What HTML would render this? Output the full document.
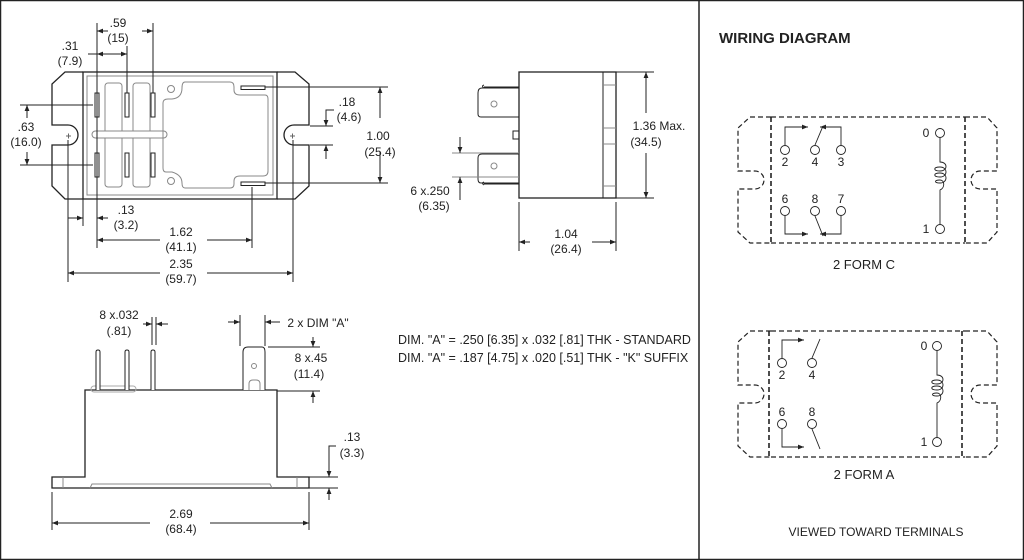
<!DOCTYPE html>
<html><head><meta charset="utf-8"><style>
html,body{margin:0;padding:0;background:#fff}
svg{display:block}
text{font-family:"Liberation Sans",sans-serif;fill:#222;font-size:12px}
</style></head><body>
<svg width="1024" height="560" viewBox="0 0 1024 560" xmlns="http://www.w3.org/2000/svg">
<defs>
<marker id="a" viewBox="0 0 10 10" refX="10" refY="5" markerWidth="8" markerHeight="6" orient="auto-start-reverse" markerUnits="userSpaceOnUse"><path d="M0,1 L10,5 L0,9z" fill="#222"/></marker>
</defs>
<rect x="0.5" y="0.5" width="1023" height="559" fill="#fff" stroke="#222" stroke-width="1.5"/>
<line x1="699" y1="0" x2="699" y2="560" stroke="#222" stroke-width="1.5"/>

<g stroke="#222" fill="none" stroke-width="1">
<path d="M83,72 H65 L52,84 V125 H68 A10,10 0 0 1 68,145 H52 V186 L65,199 H83" stroke-width="1.3"/>
<path d="M277,72 H295 L309,84 V125 H294 A10,10 0 0 0 294,145 H309 V186 L295,199 H277" stroke-width="1.3"/>
<rect x="83" y="72" width="194" height="127" stroke-width="1.3"/>
<rect x="87" y="76" width="186" height="119" stroke="#888"/>
<rect x="105" y="83" width="17" height="104" rx="3" stroke="#888"/>
<rect x="133" y="83" width="17" height="104" rx="3" stroke="#888"/>
<rect x="92" y="131" width="75" height="7" rx="3.5" stroke="#888" fill="#fff"/>
<path d="M185,82 H230 Q234,82 234,87 V90 Q234,95 240,95 H265 Q268,95 268,99 V171 Q268,176 263,176 H240 Q234,176 234,181 V184 Q234,188 230,188 H185 Q182,188 182,183 Q182,175 172,172 H166 Q163,172 163,168 V103 Q163,99 168,99 H172 Q182,98 182,88 Q182,82 185,82Z" stroke="#888"/>
<circle cx="171" cy="89" r="3.5" stroke="#888"/><circle cx="171" cy="181" r="3.5" stroke="#888"/>
<g fill="#fff" stroke="#222">
<rect x="95" y="93" width="4" height="24"/><rect x="125" y="93" width="4" height="24"/><rect x="151" y="93" width="4" height="24"/>
<rect x="95" y="153" width="4" height="24"/><rect x="125" y="153" width="4" height="24"/><rect x="151" y="153" width="4" height="24"/>
<rect x="241" y="86" width="24" height="3.5"/><rect x="241" y="182" width="24" height="3.5"/>
</g>
<path d="M66,136 h5 M68.5,133.5 v5 M290,136 h5 M292.5,133.5 v5" stroke="#666"/>
<line x1="97" y1="23" x2="97" y2="248"/>
<line x1="127" y1="46" x2="127" y2="93"/>
<line x1="153" y1="23" x2="153" y2="93"/>
<line x1="97" y1="31" x2="108" y2="31" marker-start="url(#a)"/><line x1="142" y1="31" x2="153" y2="31" marker-end="url(#a)"/>
<line x1="88" y1="54" x2="127" y2="54" marker-end="url(#a)"/><line x1="97" y1="54" x2="105" y2="54" marker-start="url(#a)"/>
<line x1="20" y1="105" x2="93" y2="105"/><line x1="20" y1="165" x2="93" y2="165"/>
<line x1="27" y1="105" x2="27" y2="118" marker-start="url(#a)"/><line x1="27" y1="152" x2="27" y2="165" marker-end="url(#a)"/>
<line x1="310" y1="126" x2="333" y2="126"/><line x1="310" y1="145" x2="333" y2="145"/>
<path d="M334,110 H326 V126" marker-end="url(#a)"/><line x1="326" y1="159" x2="326" y2="145" marker-end="url(#a)"/>
<line x1="265" y1="87" x2="388" y2="87"/><line x1="265" y1="183" x2="388" y2="183"/>
<line x1="380" y1="118" x2="380" y2="87" marker-end="url(#a)"/><line x1="380" y1="152" x2="380" y2="183" marker-end="url(#a)"/>
<line x1="68" y1="140" x2="68" y2="282"/><line x1="83" y1="199" x2="83" y2="226"/>
<line x1="293" y1="140" x2="293" y2="282"/><line x1="252" y1="187" x2="252" y2="248"/>
<line x1="68" y1="218" x2="83" y2="218" marker-end="url(#a)"/><line x1="97" y1="218" x2="108" y2="218" marker-start="url(#a)"/>
<line x1="97" y1="240" x2="160" y2="240" marker-start="url(#a)"/><line x1="207" y1="240" x2="252" y2="240" marker-end="url(#a)"/>
<line x1="68" y1="273" x2="160" y2="273" marker-start="url(#a)"/><line x1="207" y1="273" x2="293" y2="273" marker-end="url(#a)"/>

<rect x="519" y="72" width="97" height="126" stroke-width="1.3"/>
<line x1="603" y1="72" x2="603" y2="198"/>
<path d="M603,85 H616 M603,128 H616 M603,144 H616 M603,186 H616" stroke="#888"/>
<path d="M484,87 H519 M484,85 Q481,86 484,88 M484,184 H519 M484,182 Q481,183 484,185"/>
<path d="M519,88 H482 Q478,88 478,93 V114 Q478,117 481,117 H519"/>
<path d="M519,154 H482 Q478,154 478,158 V179 Q478,183 481,183 H519"/>
<circle cx="494" cy="104" r="3" stroke="#888"/><circle cx="494" cy="166" r="3" stroke="#888"/>
<rect x="513" y="131" width="6" height="8"/>
<line x1="452" y1="153" x2="519" y2="153" stroke="#888"/><line x1="452" y1="177" x2="519" y2="177" stroke="#888"/>
<line x1="460" y1="137" x2="460" y2="153" marker-end="url(#a)"/><path d="M460,200 V177" marker-end="url(#a)"/>
<line x1="616" y1="72" x2="654" y2="72"/><line x1="616" y1="198" x2="654" y2="198"/>
<line x1="646" y1="113" x2="646" y2="72" marker-end="url(#a)"/><line x1="646" y1="153" x2="646" y2="198" marker-end="url(#a)"/>
<line x1="519" y1="202" x2="519" y2="251"/><line x1="616" y1="202" x2="616" y2="251"/>
<line x1="530" y1="242" x2="519" y2="242" marker-end="url(#a)"/><line x1="592" y1="242" x2="616" y2="242" marker-end="url(#a)"/>

<path d="M85,477 V390 H277 V477 H309 V488 H52 V477 Z" stroke-width="1.3"/>
<path d="M63,477 V488 M297,477 V488 M90,488 L92,484 H270 L272,488" stroke="#888"/>
<rect x="91" y="386" width="45" height="6" rx="3" stroke="#aaa"/>
<path d="M96,390 V352 Q96,350 98,350 Q100,350 100,352 V390 M125,390 V352 Q125,350 127,350 Q129,350 129,352 V390 M151,390 V352 Q151,350 153,350 Q155,350 155,352 V390" fill="#fff"/>
<path d="M243,390 V352 Q243,347 248,347 H262 Q265,347 265,352 V390" fill="#fff"/>
<circle cx="254" cy="366" r="2.5" stroke="#888"/><path d="M249,390 V384 Q249,380 253,380 H256 Q260,380 260,384 V390" stroke="#888"/>
<line x1="152" y1="317" x2="152" y2="345"/><line x1="156" y1="317" x2="156" y2="345"/>
<line x1="143" y1="324" x2="152" y2="324" marker-end="url(#a)"/><line x1="168" y1="324" x2="156" y2="324" marker-end="url(#a)"/>
<line x1="240" y1="315" x2="240" y2="346"/><line x1="265" y1="315" x2="265" y2="346"/>
<line x1="228" y1="322" x2="240" y2="322" marker-end="url(#a)"/><line x1="280" y1="322" x2="265" y2="322" marker-end="url(#a)"/>
<line x1="268" y1="347" x2="320" y2="347"/><line x1="277" y1="391" x2="320" y2="391"/>
<line x1="313" y1="337" x2="313" y2="347" marker-end="url(#a)"/><line x1="313" y1="403" x2="313" y2="391" marker-end="url(#a)"/>
<line x1="309" y1="477" x2="338" y2="477"/><line x1="309" y1="488" x2="338" y2="488"/>
<path d="M336,446 H329 V477" marker-end="url(#a)"/><line x1="329" y1="500" x2="329" y2="488" marker-end="url(#a)"/>
<line x1="52" y1="492" x2="52" y2="530"/><line x1="309" y1="492" x2="309" y2="530"/>
<line x1="52" y1="523" x2="150" y2="523" marker-start="url(#a)"/><line x1="210" y1="523" x2="309" y2="523" marker-end="url(#a)"/>
</g>

<g text-anchor="middle">
<text x="118" y="27">.59</text><text x="118" y="42">(15)</text>
<text x="70" y="50">.31</text><text x="70" y="65">(7.9)</text>
<text x="26" y="131">.63</text><text x="26" y="146">(16.0)</text>
<text x="347" y="106">.18</text><text x="349" y="121">(4.6)</text>
<text x="378" y="140">1.00</text><text x="380" y="156">(25.4)</text>
<text x="126" y="214">.13</text><text x="126" y="229">(3.2)</text>
<text x="181" y="236">1.62</text><text x="181" y="251">(41.1)</text>
<text x="181" y="268">2.35</text><text x="181" y="283">(59.7)</text>
<text x="659" y="130">1.36 Max.</text><text x="646" y="146">(34.5)</text>
<text x="430" y="195">6 x.250</text><text x="434" y="210">(6.35)</text>
<text x="566" y="238">1.04</text><text x="566" y="253">(26.4)</text>
<text x="119" y="319">8 x.032</text><text x="119" y="335">(.81)</text>
<text x="318" y="327">2 x DIM "A"</text>
<text x="311" y="362">8 x.45</text><text x="309" y="378">(11.4)</text>
<text x="352" y="441">.13</text><text x="352" y="457">(3.3)</text>
<text x="181" y="518">2.69</text><text x="181" y="533">(68.4)</text>
</g>
<text x="398" y="344" style="font-size:12.5px">DIM. "A" = .250 [6.35] x .032 [.81] THK  - STANDARD</text>
<text x="398" y="362" style="font-size:12.5px">DIM. "A" = .187 [4.75]  x .020 [.51] THK - "K" SUFFIX</text>

<text x="719" y="43" style="font-size:15px;font-weight:bold">WIRING DIAGRAM</text>
<g stroke="#222" fill="none" stroke-width="1.2">
<path d="M771,117 H750 L738,128 V171 H755 A9,9 0 0 1 755,189 H738 V232 L750,243 H771" stroke-dasharray="5,3"/>
<path d="M965,117 H987 L997,128 V171 H980 A9,9 0 0 0 980,189 H997 V232 L987,243 H965" stroke-dasharray="5,3"/>
<line x1="771" y1="117" x2="965" y2="117" stroke-dasharray="5,3"/>
<line x1="771" y1="243" x2="965" y2="243" stroke-dasharray="5,3"/>
<line x1="771" y1="117" x2="771" y2="243" stroke-dasharray="5,3" stroke-width="1.6"/>
<line x1="965" y1="117" x2="965" y2="243" stroke-dasharray="5,3" stroke-width="1.6"/>
</g>
<g stroke="#222" fill="none" stroke-width="0.9">
<circle cx="785" cy="150" r="4.5"/><circle cx="815" cy="150" r="4.5"/><circle cx="841" cy="150" r="4.5"/>
<circle cx="785" cy="211" r="4.5"/><circle cx="815" cy="211" r="4.5"/><circle cx="841" cy="211" r="4.5"/>
<path d="M785,145 V127 H808" marker-end="url(#a)"/><path d="M841,145 V127 H820" marker-end="url(#a)"/>
<line x1="815" y1="145" x2="823" y2="126"/>
<path d="M785,216 V234 H808" marker-end="url(#a)"/><path d="M841,216 V234 H820" marker-end="url(#a)"/>
<line x1="815" y1="216" x2="823" y2="236"/>
<circle cx="940" cy="133" r="4.5"/><circle cx="940" cy="229" r="4.5"/>
<path d="M940,138 V162 C948,162 948,171 940,171 C933,171 933,167 940,167 C948,167 948,177 940,177 C933,177 933,173 940,173 C948,173 948,183 940,183 C934,183 934,180 940,180 C945,180 945,188 940,190 V224"/>
</g>
<g text-anchor="middle">
<text x="785" y="166">2</text><text x="815" y="166">4</text><text x="841" y="166">3</text>
<text x="785" y="203">6</text><text x="815" y="203">8</text><text x="841" y="203">7</text>
<text x="926" y="137">0</text><text x="926" y="233">1</text>
<text x="864" y="269" style="font-size:13px">2 FORM C</text>
</g>

<g transform="translate(0,214)">
<g stroke="#222" fill="none" stroke-width="1.2">
<path d="M771,117 H750 L738,128 V171 H755 A9,9 0 0 1 755,189 H738 V232 L750,243 H771" stroke-dasharray="5,3"/>
<path d="M965,117 H987 L997,128 V171 H980 A9,9 0 0 0 980,189 H997 V232 L987,243 H965" stroke-dasharray="5,3"/>
<line x1="771" y1="117" x2="965" y2="117" stroke-dasharray="5,3"/>
<line x1="771" y1="243" x2="965" y2="243" stroke-dasharray="5,3"/>
<line x1="769" y1="117" x2="769" y2="243" stroke-dasharray="5,3" stroke-width="1.6"/>
<line x1="962" y1="117" x2="962" y2="243" stroke-dasharray="5,3" stroke-width="1.6"/>
</g>
<g stroke="#222" fill="none" stroke-width="0.9">
<circle cx="782" cy="149" r="4.5"/><circle cx="812" cy="149" r="4.5"/>
<circle cx="782" cy="210" r="4.5"/><circle cx="812" cy="210" r="4.5"/>
<path d="M782,144 V126 H804" marker-end="url(#a)"/>
<line x1="812" y1="144" x2="820" y2="125"/>
<path d="M782,215 V233 H804" marker-end="url(#a)"/>
<line x1="812" y1="215" x2="820" y2="235"/>
<circle cx="937" cy="132" r="4.5"/><circle cx="937" cy="228" r="4.5"/>
<path d="M937,137 V161 C945,161 945,170 937,170 C930,170 930,166 937,166 C945,166 945,176 937,176 C930,176 930,172 937,172 C945,172 945,182 937,182 C931,182 931,179 937,179 C942,179 942,187 937,189 V223"/>
</g>
<g text-anchor="middle">
<text x="782" y="165">2</text><text x="812" y="165">4</text>
<text x="782" y="202">6</text><text x="812" y="202">8</text>
<text x="924" y="136">0</text><text x="924" y="232">1</text>
<text x="864" y="265" style="font-size:13px">2 FORM A</text>
</g>
</g>
<text x="876" y="536" text-anchor="middle" style="font-size:12px">VIEWED TOWARD TERMINALS</text>
</svg>
</body></html>
